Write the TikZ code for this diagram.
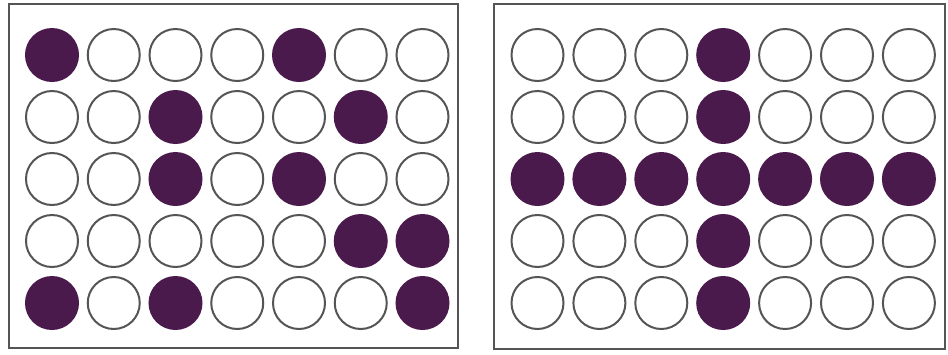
\documentclass[tikz,border=0pt]{standalone}
\usepackage{tikz}
\usetikzlibrary{positioning}
\definecolor{dotPurple}{HTML}{4A1A4C}
\definecolor{rimGray}{HTML}{555555}
\tikzset{
  panel/.style={draw=rimGray,line width=1.8pt,fill=white,inner sep=0pt,anchor=north west},
  dotoff/.style={circle,draw=rimGray,line width=2pt,fill=white,inner sep=0pt,minimum size=52pt},
  doton/.style={dotoff,draw=dotPurple,fill=dotPurple}
}

\begin{document}
\begin{tikzpicture}[x=1pt,y=-1pt]
  \useasboundingbox (0,0) rectangle (948,354);
  % the two frames
  \node[panel,minimum width=449pt,minimum height=344pt] (leftpanel) at (8,3) {};
  \node[panel,minimum width=451pt,minimum height=345pt] (rightpanel) at (493,3) {};
  % left grid
  \foreach \row [count=\r] in {{1,0,0,0,1,0,0},{0,0,1,0,0,1,0},{0,0,1,0,1,0,0},{0,0,0,0,0,1,1},{1,0,1,0,0,0,1}}
    \foreach \v [count=\c] in \row {
      \ifnum\v=1 \def\dotstyle{doton}\else \def\dotstyle{dotoff}\fi
      \node[\dotstyle] (L-\r-\c) at ({52+61.75*(\c-1)},{55+62*(\r-1)}) {};
    }
  % right grid
  \foreach \row [count=\r] in {{0,0,0,1,0,0,0},{0,0,0,1,0,0,0},{1,1,1,1,1,1,1},{0,0,0,1,0,0,0},{0,0,0,1,0,0,0}}
    \foreach \v [count=\c] in \row {
      \ifnum\v=1 \def\dotstyle{doton}\else \def\dotstyle{dotoff}\fi
      \node[\dotstyle] (R-\r-\c) at ({537.5+61.9*(\c-1)},{55+62*(\r-1)}) {};
    }
\end{tikzpicture}
\end{document}
